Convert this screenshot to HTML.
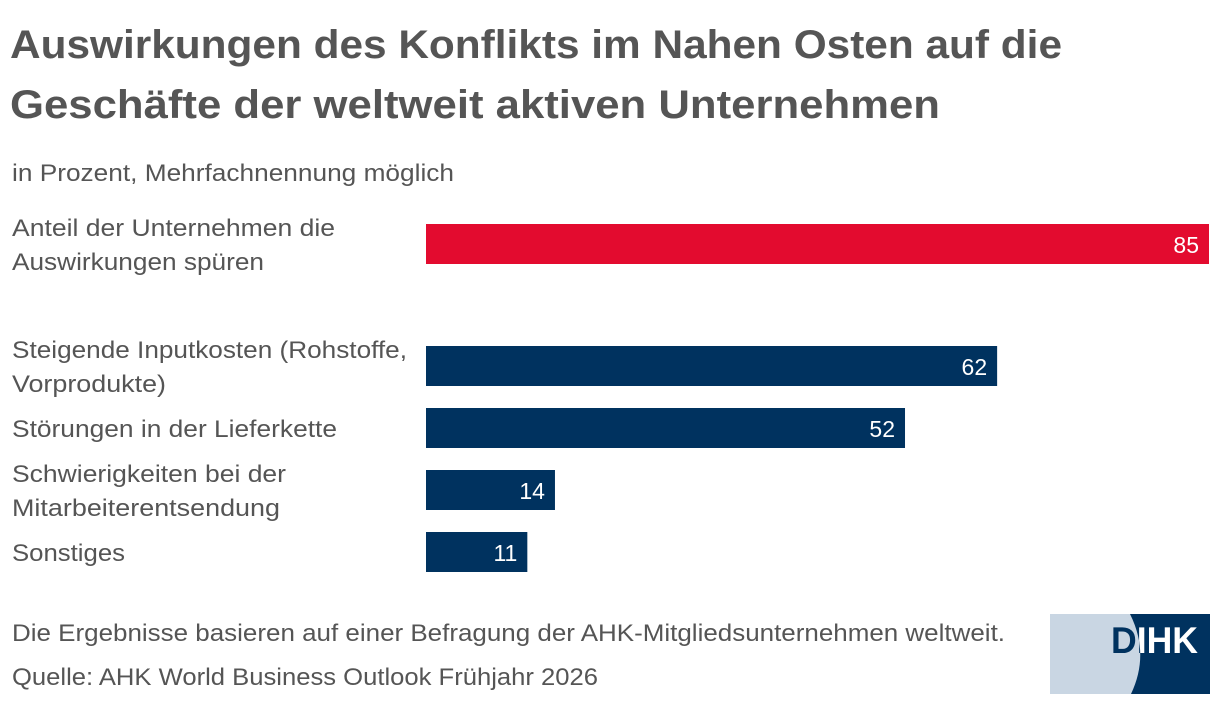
<!DOCTYPE html>
<html><head><meta charset="utf-8"><style>
html,body{margin:0;padding:0;background:#fff;width:1220px;height:704px;overflow:hidden}
svg text{font-family:"Liberation Sans",sans-serif}
</style></head><body>
<svg id="chart" width="1220" height="704" viewBox="0 0 1220 704" xmlns="http://www.w3.org/2000/svg">
<g fill="#555" font-weight="bold" font-size="40">
<text x="10" y="58" textLength="1052" lengthAdjust="spacingAndGlyphs">Auswirkungen des Konflikts im Nahen Osten auf die</text>
<text x="10" y="118" textLength="930" lengthAdjust="spacingAndGlyphs">Geschäfte der weltweit aktiven Unternehmen</text>
</g>
<text x="12" y="181" font-size="24" fill="#555" textLength="442" lengthAdjust="spacingAndGlyphs">in Prozent, Mehrfachnennung möglich</text>
<g id="labels" fill="#555" font-size="24"></g>
<g id="bars"></g>
<text x="12" y="641" font-size="24" fill="#555" textLength="993" lengthAdjust="spacingAndGlyphs">Die Ergebnisse basieren auf einer Befragung der AHK-Mitgliedsunternehmen weltweit.</text>
<text x="12" y="685" font-size="24" fill="#555" textLength="586" lengthAdjust="spacingAndGlyphs">Quelle: AHK World Business Outlook Frühjahr 2026</text>
<g>
<defs><clipPath id="dk"><path d="M1130 614 Q1150 654 1131 694 L1210 694 L1210 614 Z"/></clipPath></defs>
<rect x="1050" y="614" width="160" height="80" fill="#c9d6e3"/>
<path d="M1130 614 Q1150 654 1131 694 L1210 694 L1210 614 Z" fill="#00325f"/>
<text x="1111" y="653" font-size="37" font-weight="bold" fill="#00325f" textLength="87" lengthAdjust="spacingAndGlyphs">DIHK</text>
<text x="1111" y="653" font-size="37" font-weight="bold" fill="#fff" clip-path="url(#dk)" textLength="87" lengthAdjust="spacingAndGlyphs">DIHK</text>
</g>
</svg>
<script>
const categories = [["Anteil der Unternehmen die","Auswirkungen spüren"],["Steigende Inputkosten (Rohstoffe,","Vorprodukte)"],["Störungen in der Lieferkette"],["Schwierigkeiten bei der","Mitarbeiterentsendung"],["Sonstiges"]];
const values = [85, 62, 52, 14, 11];
const highlight = [true, false, false, false, false];
const NS = "http://www.w3.org/2000/svg";
const labelWidths = [[323, 252], [395, 154], [325], [274, 268], [113]];
const x0 = 426, scale = (1209 - 426) / 85;
const barTops = [224, 346, 408, 470, 532];
const xScale = v => x0 + v * scale;
const bars = document.getElementById('bars');
const labels = document.getElementById('labels');
values.forEach((v, i) => {
  const y = barTops[i];
  const r = document.createElementNS(NS, 'rect');
  
  
  r.setAttribute('x', x0); r.setAttribute('y', y);
  r.setAttribute('width', xScale(v) - x0); r.setAttribute('height', 40);
  r.setAttribute('fill', highlight[i] ? '#e30b2f' : '#00325f');
  bars.appendChild(r);
  const t = document.createElementNS(NS, 'text');
  
  
  t.setAttribute('x', xScale(v) - 10); t.setAttribute('y', y + 29);
  t.setAttribute('text-anchor', 'end'); t.setAttribute('fill', '#fff'); t.setAttribute('font-size', '23');
  t.textContent = v;
  bars.appendChild(t);
  const lines = categories[i];
  const baseY = lines.length === 1 ? y + 29 : y + 12;
  lines.forEach((ln, j) => {
    const lt = document.createElementNS(NS, 'text');
    
    
    lt.setAttribute('x', 12); lt.setAttribute('y', baseY + j * 34);
    lt.textContent = ln;
    const lw = labelWidths[i] && labelWidths[i][j];
    if (lw) { lt.setAttribute('textLength', lw); lt.setAttribute('lengthAdjust', 'spacingAndGlyphs'); }
    labels.appendChild(lt);
  });
});
</script>
</body></html>
